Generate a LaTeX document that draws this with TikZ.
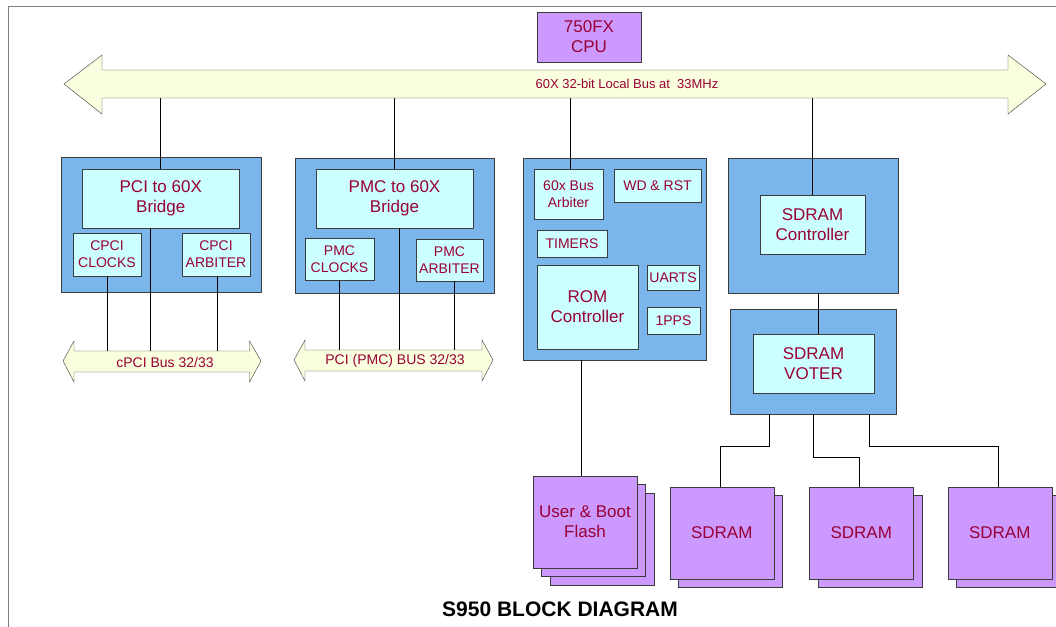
\documentclass[tikz,border=0pt]{standalone}
\usepackage{fontspec}
\setmainfont{Liberation Sans}
\definecolor{labelred}{RGB}{153,0,51}
\definecolor{blockblue}{RGB}{122,182,236}
\definecolor{boxcyan}{RGB}{204,255,255}
\definecolor{chippurple}{RGB}{204,153,255}
\definecolor{busyellow}{RGB}{249,255,222}
\definecolor{edgegray}{RGB}{60,60,60}
\tikzset{
  bluebox/.style={draw=edgegray, fill=blockblue, inner sep=0pt},
  cyanbox/.style={draw=edgegray, fill=boxcyan, text=labelred, align=center, inner sep=0pt,
    font=\fontsize{17}{20}\selectfont},
  smallbox/.style={cyanbox, font=\fontsize{14}{17}\selectfont},
  chip/.style={draw=edgegray, fill=chippurple, text=labelred, align=center, inner sep=0pt,
    minimum width=104pt, minimum height=92pt, font=\fontsize{17}{20}\selectfont},
  busshape/.style={draw=edgegray, fill=busyellow},
  buslabel/.style={text=labelred, inner sep=0pt},
  wire/.style={black, line width=0.8pt}
}
\begin{document}
\begin{tikzpicture}[x=1pt, y=-1pt]
        \useasboundingbox (0,0) rectangle (1056,626);
        \clip (0,0) rectangle (1056,626);
        \draw[gray, line width=1pt] (8,640) -- (8,7) -- (1070,7);

        % buses
        \draw[busshape] (64,84) -- (102,55) -- (102,70) -- (1008,70) -- (1008,55) -- (1046,84)
            -- (1008,114) -- (1008,98) -- (102,98) -- (102,114) -- cycle;
        \draw[busshape] (63,361) -- (74,341) -- (74,351) -- (249.5,351) -- (249.5,341) -- (261,361)
            -- (249.5,382) -- (249.5,372) -- (74,372) -- (74,382) -- cycle;
        \draw[busshape] (294,360) -- (305,340) -- (305,350) -- (482,350) -- (482,340) -- (493,360)
            -- (482,381) -- (482,371) -- (305,371) -- (305,381) -- cycle;
        \coordinate (localbus) at (0,98);
        \coordinate (cpcibus) at (0,351);
        \coordinate (pmcbus) at (0,350);
        \node[buslabel, font=\fontsize{13}{15}\selectfont] at (627,84) {60X 32-bit Local Bus at~~33MHz};
        \node[buslabel, font=\fontsize{14}{16}\selectfont] at (165,362) {cPCI Bus 32/33};
        \node[buslabel, font=\fontsize{14}{16}\selectfont] at (395,361) {PCI (PMC) BUS 32/33};

        % cpu
        \node[chip, minimum width=104pt, minimum height=50pt] (cpu) at (589,37) {750FX\\CPU};

        % pci block
        \node[bluebox, minimum width=200pt, minimum height=135pt] (pciblock) at (161,224.5) {};
        \node[cyanbox, minimum width=156.5pt, minimum height=59pt] (pcibridge) at (160.75,198.5) {PCI to 60X\\Bridge};
        \node[smallbox, minimum width=68pt, minimum height=43pt] (cpciclk) at (107,254.5) {CPCI\\CLOCKS};
        \node[smallbox, minimum width=68pt, minimum height=43pt] (cpciarb) at (216,254.5) {CPCI\\ARBITER};

        % pmc block
        \node[bluebox, minimum width=199pt, minimum height=135pt] (pmcblock) at (394.5,225.5) {};
        \node[cyanbox, minimum width=157pt, minimum height=59pt] (pmcbridge) at (394.5,198.5) {PMC to 60X\\Bridge};
        \node[smallbox, minimum width=69pt, minimum height=42pt] (pmcclk) at (339.5,259) {PMC\\CLOCKS};
        \node[smallbox, minimum width=67pt, minimum height=42pt] (pmcarb) at (449.5,260) {PMC\\ARBITER};

        % rom block
        \node[bluebox, minimum width=183pt, minimum height=202pt] (romblock) at (614.5,259) {};
        \node[smallbox, minimum width=69pt, minimum height=50pt] (busarb) at (568.5,194) {60x Bus\\Arbiter};
        \node[smallbox, minimum width=87pt, minimum height=33pt] (wdrst) at (657.5,185.5) {WD \& RST};
        \node[smallbox, minimum width=70pt, minimum height=27pt] (timers) at (572,243.5) {TIMERS};
        \node[cyanbox, minimum width=101pt, minimum height=84pt] (romctrl) at (587.5,307) {ROM\\Controller};
        \node[smallbox, minimum width=52pt, minimum height=25pt] (uarts) at (673,277.5) {UARTS};
        \node[smallbox, minimum width=53pt, minimum height=27pt] (pps) at (673.5,320.5) {1PPS};

        % sdram controller and voter
        \node[bluebox, minimum width=170pt, minimum height=135pt] (sdctrlblock) at (813,225.5) {};
        \node[cyanbox, minimum width=105pt, minimum height=59pt] (sdctrl) at (812.5,224.5) {SDRAM\\Controller};
        \node[bluebox, minimum width=166pt, minimum height=105pt] (voterblock) at (813.5,361.5) {};
        \node[cyanbox, minimum width=121pt, minimum height=59pt] (voter) at (813.5,363.5) {SDRAM\\VOTER};

        % memories
        \node[chip] at (602,539) {};
        \node[chip] at (593.5,530.5) {};
        \node[chip] (flash) at (585,522) {User \& Boot\\Flash};
        \foreach \name/\cx in {sdramA/721.75, sdramB/861.25, sdramC/999.75} {
            \node[chip] at (\cx+8.5,541) {};
            \node[chip] (\name) at (\cx,533) {SDRAM};
        }

        % connections
        \draw[wire] (pcibridge.north) -- (pcibridge.north |- localbus);
        \draw[wire] (pmcbridge.north) -- (pmcbridge.north |- localbus);
        \draw[wire] ([xshift=1.5pt]busarb.north) -- ([xshift=1.5pt]busarb.north |- localbus);
        \draw[wire] (sdctrl.north) -- (sdctrl.north |- localbus);
        \draw[wire] (cpciclk.south) -- (cpciclk.south |- cpcibus);
        \draw[wire] ([xshift=-10pt]pcibridge.south) -- ([xshift=-10pt]pcibridge.south |- cpcibus);
        \draw[wire] ([xshift=1pt]cpciarb.south) -- ([xshift=1pt]cpciarb.south |- cpcibus);
        \draw[wire] (pmcclk.south) -- (pmcclk.south |- pmcbus);
        \draw[wire] ([xshift=4.5pt]pmcbridge.south) -- ([xshift=4.5pt]pmcbridge.south |- pmcbus);
        \draw[wire] ([xshift=5pt]pmcarb.south) -- ([xshift=5pt]pmcarb.south |- pmcbus);
        \draw[wire] ([xshift=-3.5pt]flash.north) -- ([xshift=-3.5pt]flash.north |- romblock.south);
        \draw[wire] ([xshift=5pt]sdctrlblock.south) -- ([xshift=5pt]sdctrlblock.south |- voter.north);
        \draw[wire] ([xshift=-44pt]voterblock.south) -- ++(0,32) -| ([xshift=-1.5pt]sdramA.north);
        \draw[wire] (voterblock.south) -- ++(0,43) -| ([xshift=-1.5pt]sdramB.north);
        \draw[wire] ([xshift=55.5pt]voterblock.south) -- ++(0,32) -| ([xshift=-1.5pt]sdramC.north);

        \node[font=\bfseries\fontsize{21}{24}\selectfont] (title) at (560,609) {S950 BLOCK DIAGRAM};
    \end{tikzpicture}
\end{document}
